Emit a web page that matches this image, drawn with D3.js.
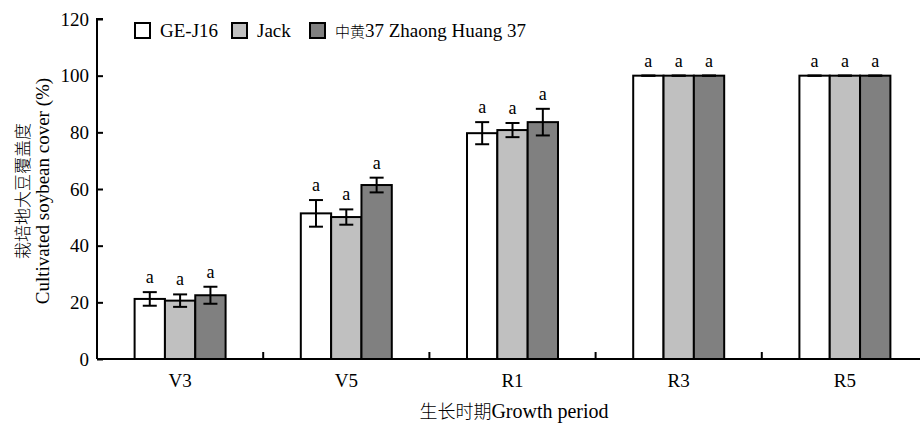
<!DOCTYPE html>
<html>
<head>
<meta charset="utf-8">
<script src="https://cdn.jsdelivr.net/npm/d3@7"></script>
<style>
    body { margin: 0; background: #fff; }
</style>
</head>
<body>
<div id="graph-container"></div>
<script>
// DATA
const periods = ['V3', 'V5', 'R1', 'R3', 'R5']
const varieties = ['GE-J16', 'Jack', '中黄37 Zhaong Huang 37']
const geJ16 = [21.2, 51.4, 79.7, 100, 100]
const geJ16Err = [2.4, 4.7, 3.9, 0, 0]
const jack = [20.6, 50.1, 80.8, 100, 100]
const jackErr = [2.2, 2.7, 2.5, 0, 0]
const zh37 = [22.5, 61.4, 83.6, 100, 100]
const zh37Err = [3.0, 2.6, 4.7, 0, 0]
const letters = ['a', 'a', 'a', 'a', 'a']
const yTicks = [0, 20, 40, 60, 80, 100, 120]

// SETTINGS
const SERIF = '"Liberation Serif", "DejaVu Serif", "Times New Roman", serif'
const CJK = '"Noto Sans CJK SC", "Noto Sans CJK JP", sans-serif'
const settings = {
    width: 920,
    height: 425,
    margins: { left: 97, top: 19 },
    plotRight: 928,
    colors: ['#ffffff', '#c0c0c0', '#808080']
}

const seriesValues = [geJ16, jack, zh37]
const seriesErrors = [geJ16Err, jackErr, zh37Err]

const rows = []
periods.forEach((p, i) => {
    varieties.forEach((v, k) => {
        rows.push({ period: p, variety: v, k: k, value: seriesValues[k][i], err: seriesErrors[k][i], letter: letters[i] })
    })
})

const svg = d3.select('#graph-container').append('svg')
    .attr('width', settings.width)
    .attr('height', settings.height)
    .style('font-family', SERIF)

const x = d3.scaleBand()
    .domain(periods)
    .range([settings.margins.left, settings.plotRight])

const xInner = d3.scaleBand()
    .domain(d3.range(varieties.length))
    .range([0, x.bandwidth()])
    .paddingOuter(1.24)
    .paddingInner(0)

const y = d3.scaleLinear()
    .domain([0, 120])
    .range([359, settings.margins.top])

// bars
svg.append('g').selectAll('rect')
    .data(rows)
    .enter().append('rect')
    .attr('x', d => x(d.period) + xInner(d.k))
    .attr('y', d => y(d.value))
    .attr('width', xInner.bandwidth())
    .attr('height', d => y(0) - y(d.value))
    .attr('fill', d => settings.colors[d.k])
    .attr('stroke', '#000')
    .attr('stroke-width', 2)

// error bars
const capW = 7
const errG = svg.append('g').attr('stroke', '#000').attr('stroke-width', 2)
rows.forEach(d => {
    const cx = x(d.period) + xInner(d.k) + xInner.bandwidth() / 2
    errG.append('line').attr('x1', cx).attr('x2', cx).attr('y1', y(d.value + d.err)).attr('y2', y(d.value - d.err))
    errG.append('line').attr('x1', cx - capW).attr('x2', cx + capW).attr('y1', y(d.value + d.err)).attr('y2', y(d.value + d.err))
    errG.append('line').attr('x1', cx - capW).attr('x2', cx + capW).attr('y1', y(d.value - d.err)).attr('y2', y(d.value - d.err))
})

// significance letters
svg.append('g').selectAll('text')
    .data(rows)
    .enter().append('text')
    .attr('x', d => x(d.period) + xInner(d.k) + xInner.bandwidth() / 2)
    .attr('y', d => y(d.value + d.err) - 9)
    .attr('text-anchor', 'middle')
    .style('font-family', SERIF)
    .style('font-size', '18px')
    .text(d => d.letter)

// axes
const yAxis = d3.axisRight(y).tickValues(yTicks).tickSize(6).tickFormat(d3.format('d'))
const yG = svg.append('g')
    .attr('transform', `translate(${settings.margins.left}, 0)`)
    .call(yAxis)
yG.select('.domain').attr('stroke-width', 2).attr('d', `M6,${y(120)}H0V${y(0)}`)
yG.selectAll('.tick line').attr('stroke-width', 2)
yG.selectAll('.tick text')
    .attr('x', -8)
    .attr('text-anchor', 'end')
    .attr('fill', '#000')
    .style('font-family', SERIF)
    .style('font-size', '19px')

const xAxis = d3.axisTop(x).tickSize(0).tickFormat('')
const xG = svg.append('g')
    .attr('transform', `translate(0, ${y(0)})`)
    .call(xAxis)
xG.select('.domain').attr('stroke-width', 2).attr('d', `M${settings.margins.left},0H${settings.plotRight}`)

// category dividers (inside ticks)
svg.append('g').selectAll('line')
    .data(periods.slice(1))
    .enter().append('line')
    .attr('x1', d => x(d)).attr('x2', d => x(d))
    .attr('y1', y(0)).attr('y2', y(0) - 7)
    .attr('stroke', '#000').attr('stroke-width', 2)

svg.append('g').selectAll('text')
    .data(periods)
    .enter().append('text')
    .attr('x', d => x(d) + x.bandwidth() / 2)
    .attr('y', 387)
    .attr('text-anchor', 'middle')
    .style('font-family', SERIF)
    .style('font-size', '19px')
    .text(d => d)

// axis titles
const xTitle = svg.append('text')
    .attr('x', 514)
    .attr('y', 418)
    .attr('text-anchor', 'middle')
    .style('font-family', SERIF)
    .style('font-size', '20px')
xTitle.append('tspan').style('font-family', CJK).style('font-size', '18px').style('font-weight', 300).text('生长时期')
xTitle.append('tspan').text('Growth period')

const yTitle = svg.append('g').attr('transform', 'translate(0, 191) rotate(-90)')
yTitle.append('text')
    .attr('x', 0).attr('y', 29)
    .attr('text-anchor', 'middle')
    .style('font-family', CJK)
    .style('font-size', '17px')
    .style('font-weight', 300)
    .text('栽培地大豆覆盖度')
yTitle.append('text')
    .attr('x', 0).attr('y', 49)
    .attr('text-anchor', 'middle')
    .style('font-family', SERIF)
    .style('font-size', '19px')
    .text('Cultivated soybean cover (%)')

// legend
const legendX = [135, 232, 310]
const legend = svg.append('g').selectAll('g')
    .data(varieties)
    .enter().append('g')
    .attr('transform', (d, i) => `translate(${legendX[i]}, 23)`)
legend.append('rect')
    .attr('width', 15).attr('height', 15)
    .attr('fill', (d, i) => settings.colors[i])
    .attr('stroke', '#000').attr('stroke-width', 2)
legend.each(function (d) {
    const t = d3.select(this).append('text')
        .attr('x', 25).attr('y', 14)
        .style('font-family', SERIF)
        .style('font-size', '19px')
    const m = d.match(/^([\u4e00-\u9fff]+)(.*)$/)
    if (m) {
        t.append('tspan').style('font-family', CJK).style('font-size', '15px').style('font-weight', 300).text(m[1])
        t.append('tspan').text(m[2])
    } else {
        t.text(d)
    }
})
</script>
</body>
</html>
